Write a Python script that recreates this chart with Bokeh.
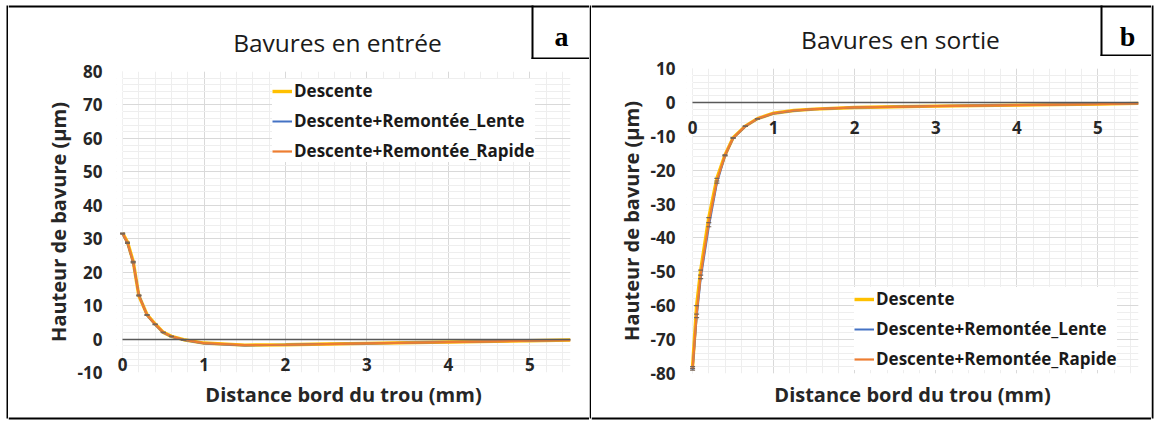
from bokeh.plotting import figure
from bokeh.models import (SingleIntervalTicker, FixedTicker, LinearAxis, Grid, Legend,
                          LegendItem, Label, BoxAnnotation, Range1d)
from bokeh.layouts import row, column
from bokeh.embed import file_html
from bokeh.resources import INLINE

FONT = "Open Sans"
TXT = "#262626"

# ---------------- data ----------------
series_names = ["Descente", "Descente+Remontée_Lente", "Descente+Remontée_Rapide"]
series_colors = ["#FFC000", "#4472C4", "#ED7D31"]

# (a) Bavures en entrée
xa = [0, 0.06, 0.13, 0.2, 0.3, 0.4, 0.5, 0.6, 0.75, 1.0, 1.5, 2.0, 2.5, 3.0, 4.0, 5.0, 5.5]
a_desc = [31.7, 29.0, 23.2, 12.9, 7.3, 4.5, 2.0, 0.8, -0.2, -1.2, -1.8, -1.7, -1.5, -1.3, -0.9, -0.5, -0.3]
a_lente = [31.4, 28.6, 22.8, 13.2, 7.1, 4.3, 1.9, 0.7, -0.3, -1.3, -1.9, -1.7, -1.5, -1.3, -0.9, -0.5, -0.3]
a_rapide = [31.6, 28.8, 23.0, 13.0, 7.2, 4.4, 2.0, 0.8, -0.2, -1.2, -1.8, -1.7, -1.5, -1.3, -0.9, -0.5, -0.3]

# (b) Bavures en sortie
xb = [0, 0.05, 0.1, 0.2, 0.3, 0.4, 0.5, 0.65, 0.8, 1.0, 1.25, 1.5, 2.0, 2.5, 3.0, 4.0, 5.0, 5.5]
b_desc = [-78.0, -60.0, -49.5, -34.0, -22.4, -15.5, -10.4, -7.0, -4.8, -3.2, -2.4, -2.0, -1.5, -1.3, -1.1, -0.8, -0.5, -0.3]
b_lente = [-79.0, -63.5, -52.0, -36.7, -23.8, -15.8, -10.6, -7.1, -4.9, -3.3, -2.5, -2.0, -1.5, -1.3, -1.1, -0.8, -0.5, -0.3]
b_rapide = [-78.5, -62.5, -51.0, -35.5, -23.2, -15.6, -10.5, -7.0, -4.8, -3.2, -2.4, -2.0, -1.5, -1.3, -1.1, -0.8, -0.5, -0.3]

x_ticks = [0, 1, 2, 3, 4, 5]
ya_ticks = [-10, 0, 10, 20, 30, 40, 50, 60, 70, 80]
ya_labels = ["-10", "0", "10", "20", "30", "40", "50", "60", "70", "80"]
yb_ticks = [-80, -70, -60, -50, -40, -30, -20, -10, 0, 10]
yb_labels = ["-80", "-70", "-60", "-50", "-40", "-30", "-20", "-10", "0", "10"]

titles = ["Bavures en entrée", "Bavures en sortie"]
xlabel = "Distance bord du trou (mm)"
ylabel = "Hauteur de bavure (µm)"
panel_tags = ["a", "b"]

X_START, X_END = -0.075, 5.5
PAGE_H = 421


def base_fig(w, h, fill="white"):
    f = figure(width=w, height=h, x_axis_type=None, y_axis_type=None, title=None,
               toolbar_location=None, output_backend="svg",
               min_border_left=0, min_border_right=0, min_border_top=0, min_border_bottom=0,
               background_fill_color=fill, border_fill_color=fill,
               x_range=Range1d(0, 1), y_range=Range1d(0, 1))
    f.outline_line_color = None
    f.frame_align = False
    return f


def sbox(f, left, right, bottom, top, color="black"):
    # rectangle in screen pixels, x from the left, y up from the bottom of the canvas
    f.add_layout(BoxAnnotation(left=left, right=right, bottom=bottom, top=top,
                               left_units="screen", right_units="screen",
                               top_units="screen", bottom_units="screen",
                               fill_color=color, fill_alpha=1, line_color=None))


def vstrip(w, x0, x1):
    f = base_fig(w, PAGE_H)
    sbox(f, x0, x1, 3, 416)
    return f


def header(width, height, title, title_x, title_top, tag, box_left, tag_x):
    h = base_fig(width, height)
    h.add_layout(Label(x=title_x, y=height - title_top, x_units="screen", y_units="screen",
                       text=title, text_font=FONT, text_font_size="24.5px",
                       text_font_style="normal", text_color="#1a1a1a",
                       text_align="center", text_baseline="middle"))
    sbox(h, 0, width, height - 7, height - 5)          # outer top border
    sbox(h, box_left, box_left + 2, 0, height - 5)     # tag box, left edge
    sbox(h, box_left, width, 0, 2)                      # tag box, bottom edge
    h.add_layout(Label(x=tag_x, y=height - 36, x_units="screen", y_units="screen", text=tag,
                       text_font="Liberation Serif", text_font_style="bold",
                       text_font_size="28px", text_align="center", text_baseline="middle",
                       text_color="black"))
    return h


def footer(width, height):
    f = base_fig(width, height)
    sbox(f, 0, width, 3, 5)                             # outer bottom border
    return f


def make_panel(xs, ys_list, y_ticks, y_labels, y_rng, width, height,
               mb_left, mb_right, mb_top, mb_bottom, legend_loc, y_std, xl_std, marker_xmax):
    p = figure(width=width, height=height, x_range=Range1d(X_START, X_END),
               y_range=Range1d(*y_rng), title=None,
               x_axis_type=None, y_axis_type=None, output_backend="svg", toolbar_location=None,
               min_border_left=mb_left, min_border_right=mb_right,
               min_border_top=mb_top, min_border_bottom=mb_bottom,
               background_fill_color="white", border_fill_color="white")
    p.outline_line_color = None
    p.frame_align = False

    xt = SingleIntervalTicker(interval=1, num_minor_ticks=5)
    yt = SingleIntervalTicker(interval=10, num_minor_ticks=5)
    p.add_layout(Grid(dimension=0, ticker=xt, grid_line_color="#d9d9d9", grid_line_width=1,
                      minor_grid_line_color="#eeeeee", minor_grid_line_width=1))
    p.add_layout(Grid(dimension=1, ticker=yt, grid_line_color="#d9d9d9", grid_line_width=1,
                      minor_grid_line_color="#eeeeee", minor_grid_line_width=1))
    # white sliver left of x = 0 (room for the "0" tick label)
    p.add_layout(BoxAnnotation(right=0, fill_color="white", fill_alpha=1, line_color=None,
                               level="underlay"))

    # x axis crossing at y = 0
    xax = LinearAxis(ticker=FixedTicker(ticks=x_ticks), fixed_location=0, bounds=(0, X_END),
                     axis_line_color="#595959", axis_line_width=1.5,
                     major_tick_line_color=None, minor_tick_line_color=None,
                     major_tick_out=0, major_tick_in=0, minor_tick_out=0, minor_tick_in=0,
                     major_label_standoff=19,
                     major_label_text_font=FONT, major_label_text_font_style="bold",
                     major_label_text_font_size="17px", major_label_text_color=TXT)
    p.add_layout(xax, "below")
    # x axis title (separate tick-less axis at the bottom)
    xtit = LinearAxis(ticker=FixedTicker(ticks=[]), axis_line_color=None,
                      major_tick_line_color=None, minor_tick_line_color=None,
                      major_tick_out=0, major_tick_in=0, minor_tick_out=0, minor_tick_in=0,
                      major_label_text_font_size="0px",
                      axis_label=xlabel, axis_label_standoff=xl_std,
                      axis_label_text_font=FONT, axis_label_text_font_style="bold",
                      axis_label_text_font_size="20px", axis_label_text_color=TXT)
    p.add_layout(xtit, "below")

    yax = LinearAxis(ticker=FixedTicker(ticks=y_ticks),
                     major_label_overrides={t: l for t, l in zip(y_ticks, y_labels)},
                     axis_line_color=None, major_tick_line_color=None, minor_tick_line_color=None,
                     major_tick_out=0, major_tick_in=0, minor_tick_out=0, minor_tick_in=0,
                     major_label_standoff=y_std,
                     major_label_text_font=FONT, major_label_text_font_style="bold",
                     major_label_text_font_size="17px", major_label_text_color=TXT,
                     axis_label=ylabel, axis_label_standoff=3,
                     axis_label_text_font=FONT, axis_label_text_font_style="bold",
                     axis_label_text_font_size="20px", axis_label_text_color=TXT)
    p.add_layout(yax, "left")

    widths = [3.4, 2, 2.2]
    rends = []
    for ys, c, w in zip(ys_list, series_colors, widths):
        rends.append(p.line(xs, ys, line_color=c, line_width=w))
    for ys in ys_list:
        mx = [x for x in xs if x <= marker_xmax]
        my = [y for x, y in zip(xs, ys) if x <= marker_xmax]
        p.scatter(mx, my, marker="dash", size=5, line_color="#7a6655", line_width=1.2,
                  fill_color=None)

    legend = Legend(items=[LegendItem(label=n, renderers=[r]) for n, r in zip(series_names, rends)],
                    location=legend_loc, margin=0, padding=7, spacing=7,
                    glyph_width=20, glyph_height=20, label_height=20, label_standoff=2,
                    label_text_font=FONT, label_text_font_style="bold",
                    label_text_font_size="17px", label_text_color="#1a1a1a",
                    border_line_color=None, background_fill_color="white",
                    background_fill_alpha=1.0)
    p.add_layout(legend)
    return p


# page geometry (x): margin 0..6, border 6..8, panel a 8..589, divider 589..591,
# panel b 591..1151, border 1151..1153, margin 1153..1155
WA, WB = 581, 560
HA_HEAD, HB_HEAD, FOOT = 59, 56, 11

head_a = header(WA, HA_HEAD, titles[0], 329, 42, panel_tags[0], 523, 553)
head_b = header(WB, HB_HEAD, titles[1], 309, 39, panel_tags[1], 509, 536)

p1 = make_panel(xa, [a_desc, a_lente, a_rapide], ya_ticks, ya_labels, (-10, 80),
                WA, PAGE_H - HA_HEAD - FOOT, 108, 19, 71 - HA_HEAD, 32, (156, 210), 14, 8, 0.8)
p2 = make_panel(xb, [b_desc, b_lente, b_rapide], yb_ticks, yb_labels, (-80, 10),
                WB, PAGE_H - HB_HEAD - FOOT, 95, 13, 68 - HB_HEAD, 36, (168, 3), 11, 7, 0.8)

panel_a = column(head_a, p1, footer(WA, FOOT), spacing=0)
panel_b = column(head_b, p2, footer(WB, FOOT), spacing=0)
layout = row(vstrip(8, 6, 8), panel_a, vstrip(2, 0, 2), panel_b, vstrip(4, 0, 2), spacing=0)

open("out.html", "w").write(file_html(layout, INLINE))
